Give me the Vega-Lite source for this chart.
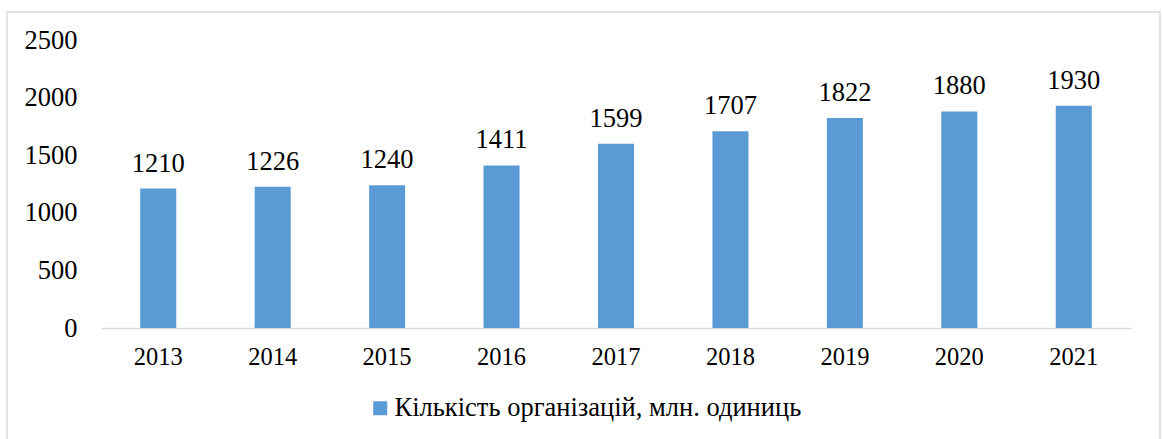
{
  "$schema": "https://vega.github.io/schema/vega-lite/v6.json",
  "autosize": {"type": "none"},
  "padding": {"left": 7, "top": 12, "right": 2, "bottom": 0},
  "width": 1153,
  "height": 440,
  "background": "white",
  "config": {
    "view": {"stroke": "#D9D9D9", "strokeWidth": 1.5},
    "font": "Liberation Serif",
    "axis": {"labelFont": "Liberation Serif"},
    "legend": {"labelFont": "Liberation Serif"},
    "text": {"font": "Liberation Serif"}
  },
  "data": {
    "values": [
      {"year": "2013", "value": 1210, "series": "Кількість організацій, млн. одиниць"},
      {"year": "2014", "value": 1226, "series": "Кількість організацій, млн. одиниць"},
      {"year": "2015", "value": 1240, "series": "Кількість організацій, млн. одиниць"},
      {"year": "2016", "value": 1411, "series": "Кількість організацій, млн. одиниць"},
      {"year": "2017", "value": 1599, "series": "Кількість організацій, млн. одиниць"},
      {"year": "2018", "value": 1707, "series": "Кількість організацій, млн. одиниць"},
      {"year": "2019", "value": 1822, "series": "Кількість організацій, млн. одиниць"},
      {"year": "2020", "value": 1880, "series": "Кількість організацій, млн. одиниць"},
      {"year": "2021", "value": 1930, "series": "Кількість організацій, млн. одиниць"}
    ]
  },
  "encoding": {
    "x": {
      "field": "year",
      "type": "ordinal",
      "scale": {"range": [94, 1124], "paddingInner": 0.685, "paddingOuter": 0.3425},
      "axis": {
        "title": null,
        "offset": -124,
        "labelAngle": 0,
        "ticks": false,
        "domainColor": "#D9D9D9",
        "domainWidth": 1.5,
        "labelFontSize": 24.5,
        "labelColor": "black",
        "labelBaseline": "alphabetic",
        "labelPadding": 36
      }
    },
    "y": {
      "field": "value",
      "type": "quantitative",
      "scale": {"domain": [0, 2500], "range": [316, 28], "nice": false},
      "axis": {
        "title": null,
        "offset": -94,
        "values": [0, 500, 1000, 1500, 2000, 2500],
        "format": "d",
        "grid": false,
        "domain": false,
        "ticks": false,
        "labelFontSize": 26.5,
        "labelColor": "black",
        "labelPadding": 24,
        "labelBaseline": "middle"
      }
    }
  },
  "layer": [
    {
      "mark": {"type": "bar", "color": "#5B9BD5"},
      "encoding": {
        "color": {
          "field": "series",
          "type": "nominal",
          "scale": {"range": ["#5B9BD5"]},
          "legend": {
            "title": null,
            "orient": "none",
            "legendX": 360,
            "legendY": 383,
            "symbolType": "square",
            "symbolSize": 196,
            "symbolStrokeWidth": 0,
            "labelFontSize": 26.5,
            "labelColor": "black",
            "labelOffset": 1,
            "labelLimit": 700
          }
        }
      }
    },
    {
      "mark": {"type": "text", "baseline": "alphabetic", "dy": -17, "fontSize": 26.5, "color": "black"},
      "encoding": {"text": {"field": "value", "type": "quantitative", "format": "d"}}
    }
  ]
}
